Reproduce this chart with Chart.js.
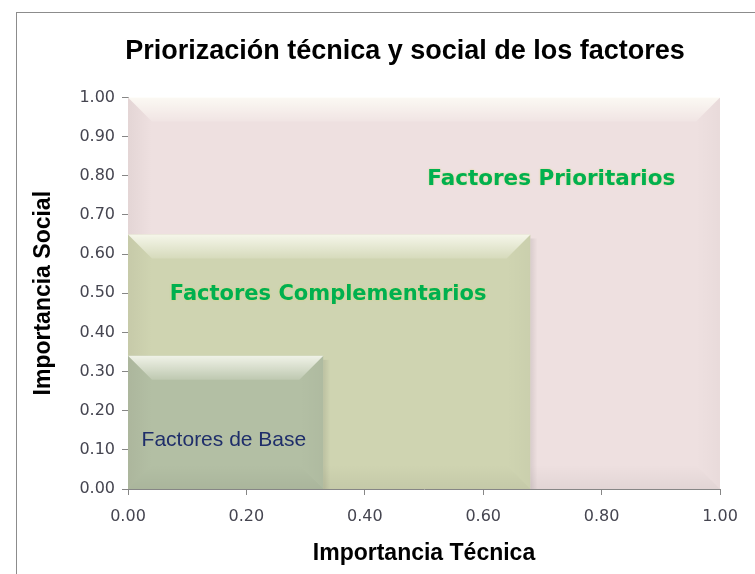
<!DOCTYPE html>
<html>
<head>
<meta charset="utf-8">
<script src="https://cdn.jsdelivr.net/npm/chart.js@4"></script>
<style>
  html, body { margin: 0; padding: 0; background: #fff; overflow: hidden; }
  #frame {
    position: absolute; left: 16px; top: 12px;
    width: 780px; height: 570px;
    border-left: 1px solid #8c8c8c; border-top: 1px solid #8c8c8c;
  }
  #chart { display: block; }
</style>
</head>
<body>
<div id="frame"><canvas id="chart" width="780" height="570"></canvas></div>
<script>
// zonas (de la más pequeña a la más grande)
const zoneNames = ["Factores de Base", "Factores Complementarios", "Factores Prioritarios"]
const zoneTecnica = [0.33, 0.68, 1.00]
const zoneSocial = [0.34, 0.65, 1.00]

// donde va el texto de cada zona
const labelTecnica = [0.162, 0.338, 0.715]
const labelSocial = [0.125, 0.496, 0.79]

const xTickStep = 0.2
const yTickStep = 0.1

const zoneColors = ["#b3bfa4", "#cfd4b1", "#eee0e0"]
const labelFonts = [
  "normal 21px 'Liberation Sans', Arial, sans-serif",
  "bold 21px 'DejaVu Sans', Verdana, sans-serif",
  "bold 21.5px 'DejaVu Sans', Verdana, sans-serif"
]
const labelColors = ["#1f2e6a", "#00b050", "#00b050"]

const sans = "'Liberation Sans', Arial, sans-serif"
const tickFont = { family: "'DejaVu Sans', Verdana, sans-serif", size: 16 }

// bisel tipo Excel
const bevelPlugin = {
  id: "bevel",
  afterDatasetDraw(chart, args) {
    const pts = args.meta.data
    if (!pts || pts.length < 2) return
    const ctx = chart.ctx
    const x0 = pts[0].x, x1 = pts[1].x, yt = pts[0].y
    const yb = chart.scales.y.getPixelForValue(0)
    const b = 24
    ctx.save()

    // sombra a la derecha
    if (args.index < 2) {
      let g = ctx.createLinearGradient(x1, 0, x1 + 7, 0)
      g.addColorStop(0, "rgba(0,0,0,0.09)")
      g.addColorStop(1, "rgba(0,0,0,0)")
      ctx.fillStyle = g
      ctx.fillRect(x1, yt + 4, 7, yb - yt - 4)
    }

    // arriba
    let g = ctx.createLinearGradient(0, yt, 0, yt + b)
    g.addColorStop(0, "rgba(255,255,248,0.8)")
    g.addColorStop(1, "rgba(255,255,248,0.15)")
    ctx.fillStyle = g
    ctx.beginPath()
    ctx.moveTo(x0, yt); ctx.lineTo(x1, yt); ctx.lineTo(x1 - b, yt + b); ctx.lineTo(x0 + b, yt + b)
    ctx.closePath(); ctx.fill()

    // izquierda
    g = ctx.createLinearGradient(x0, 0, x0 + b, 0)
    g.addColorStop(0, "rgba(60,40,40,0.06)")
    g.addColorStop(1, "rgba(60,40,40,0.0)")
    ctx.fillStyle = g
    ctx.beginPath()
    ctx.moveTo(x0, yt); ctx.lineTo(x0 + b, yt + b); ctx.lineTo(x0 + b, yb - b); ctx.lineTo(x0, yb)
    ctx.closePath(); ctx.fill()

    // derecha
    g = ctx.createLinearGradient(x1 - b, 0, x1, 0)
    g.addColorStop(0, "rgba(0,0,0,0.0)")
    g.addColorStop(1, "rgba(0,0,0,0.025)")
    ctx.fillStyle = g
    ctx.beginPath()
    ctx.moveTo(x1, yt); ctx.lineTo(x1 - b, yt + b); ctx.lineTo(x1 - b, yb - b); ctx.lineTo(x1, yb)
    ctx.closePath(); ctx.fill()

    // abajo
    g = ctx.createLinearGradient(0, yb - b, 0, yb)
    g.addColorStop(0, "rgba(0,0,0,0.0)")
    g.addColorStop(1, "rgba(0,0,0,0.05)")
    ctx.fillStyle = g
    ctx.beginPath()
    ctx.moveTo(x0, yb); ctx.lineTo(x0 + b, yb - b); ctx.lineTo(x1 - b, yb - b); ctx.lineTo(x1, yb)
    ctx.closePath(); ctx.fill()

    ctx.restore()
  }
}

const zoneLabels = {
  id: "zoneLabels",
  afterDatasetsDraw(chart) {
    const ctx = chart.ctx
    const xs = chart.scales.x, ys = chart.scales.y
    ctx.save()
    ctx.textAlign = "center"
    ctx.textBaseline = "middle"
    zoneNames.forEach((name, i) => {
      ctx.font = labelFonts[i]
      ctx.fillStyle = labelColors[i]
      if (i > 0) {
        ctx.shadowColor = "rgba(220,215,110,0.9)"
        ctx.shadowBlur = 2
      } else {
        ctx.shadowColor = "transparent"
      }
      ctx.fillText(name, xs.getPixelForValue(labelTecnica[i]), ys.getPixelForValue(labelSocial[i]))
    })
    ctx.restore()
  }
}

new Chart(document.getElementById("chart"), {
  type: "line",
  data: {
    datasets: zoneNames.map((name, i) => ({
      label: name,
      data: [{ x: 0, y: zoneSocial[i] }, { x: zoneTecnica[i], y: zoneSocial[i] }],
      fill: "origin",
      backgroundColor: zoneColors[i],
      borderWidth: 0,
      pointRadius: 0,
      tension: 0
    }))
  },
  options: {
    responsive: false,
    animation: false,
    layout: { padding: { left: 0, right: 4, top: 0, bottom: 0 } },
    plugins: {
      legend: { display: false },
      tooltip: { enabled: false },
      title: {
        display: true,
        text: "Priorización técnica y social de los factores",
        color: "#000",
        font: { family: sans, size: 27, weight: "bold", lineHeight: 1.2 },
        padding: { top: 22, bottom: 30 }
      }
    },
    scales: {
      x: {
        type: "linear",
        min: 0, max: 1,
        afterFit: s => { s.height = 94 },
        ticks: {
          stepSize: xTickStep,
          callback: v => v.toFixed(2),
          color: "#454550",
          font: tickFont,
          padding: 12
        },
        grid: { drawOnChartArea: false, drawTicks: true, tickLength: 6, color: "#868686" },
        border: { display: true, color: "#868686" },
        title: {
          display: true,
          text: "Importancia Técnica",
          color: "#000",
          font: { family: sans, size: 23, weight: "bold", lineHeight: 1.2 },
          padding: { top: 0, bottom: 16 }
        }
      },
      y: {
        min: 0, max: 1,
        afterFit: s => { s.width = 111 },
        ticks: {
          stepSize: yTickStep,
          callback: v => v.toFixed(2),
          color: "#454550",
          font: tickFont,
          padding: 7
        },
        grid: { drawOnChartArea: false, drawTicks: true, tickLength: 6, color: "#868686" },
        border: { display: true, color: "#868686" },
        title: {
          display: true,
          text: "Importancia Social",
          color: "#000",
          font: { family: sans, size: 23, weight: "bold", lineHeight: 1.2 },
          padding: { top: 13, bottom: 0 }
        }
      },
      // hueco a la derecha del área de trazado
      spacer: {
        position: "right",
        afterFit: s => { s.width = 73 },
        grid: { display: false },
        border: { display: false },
        ticks: { display: false }
      }
    }
  },
  plugins: [bevelPlugin, zoneLabels]
})
</script>
</body>
</html>
